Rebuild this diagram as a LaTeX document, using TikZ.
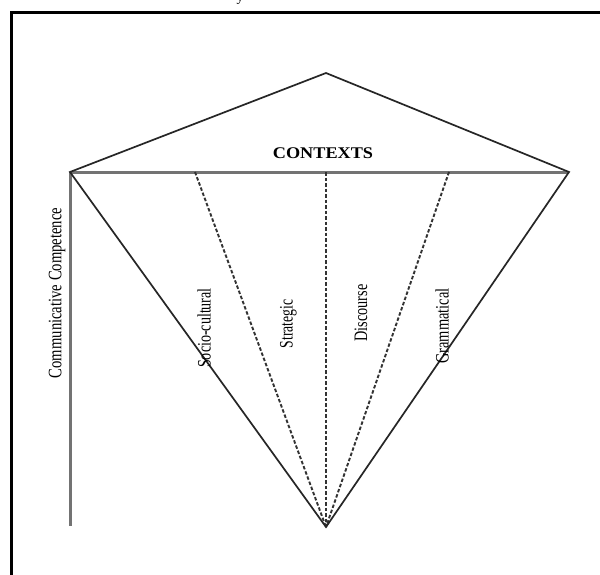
\documentclass[tikz,border=0pt]{standalone}
\usepackage{fontspec}
\setmainfont{Liberation Serif}
\begin{document}
\begin{tikzpicture}[x=1pt,y=-1pt,
  edge/.style={draw=black!85, line width=1.7pt},
  grayline/.style={draw=black!55, line width=3pt},
  dashline/.style={draw=black!80, line width=1.9pt, dash pattern=on 3.5pt off 2pt},
  lab/.style={rotate=90, inner sep=0pt, text=black, font=\fontsize{19}{19}\selectfont},
  frame/.style={draw=black, line width=2.8pt}]
\useasboundingbox (0,0) rectangle (600,574);
\clip (0,0) rectangle (600,574);
\fill[white] (0,0) rectangle (600,574);
% frame (only top and left edges visible)
\coordinate (F0) at (11.5,640);
\coordinate (F1) at (11.5,12.5);
\coordinate (F2) at (640,12.5);
\draw[frame] (F0) -- (F1) -- (F2);
\node[anchor=base, inner sep=0pt, font=\fontsize{14}{14}\selectfont] (ycut) at (240,1) {y};
% vertices
\coordinate (apex) at (326,73);
\coordinate (L) at (70,172);
\coordinate (R) at (569,172);
\coordinate (B) at (326,527);
\coordinate (D1) at (195,172);
\coordinate (D2) at (326,172);
\coordinate (D3) at (449,172);
\coordinate (V) at (70,526);
% gray lines
\draw[grayline] (L) -- (R);
\draw[grayline] (L) -- (V);
% dashed lines
\draw[dashline] (D1) -- (B);
\draw[dashline] (D2) -- (B);
\draw[dashline] (D3) -- (B);
% outline
\draw[edge, line join=miter] (L) -- (apex) -- (R) -- (B) -- cycle;
% labels
\node[font=\fontsize{17.5}{17.5}\selectfont\bfseries, inner sep=0pt, text=black] (ctx) at (323,153.5) {\scalebox{1.04}[0.93]{CONTEXTS}};
\node[lab] (cc) at (57,293) {\scalebox{0.77}[1]{Communicative Competence}};
\node[lab] (sc) at (204,328) {\scalebox{0.74}[1]{Socio-cultural}};
\node[lab] (st) at (288.5,324) {\scalebox{0.72}[1]{Strategic}};
\node[lab] (di) at (361,313) {\scalebox{0.75}[1]{Discourse}};
\node[lab] (gr) at (442,326) {\scalebox{0.76}[1]{Grammatical}};
\end{tikzpicture}
\end{document}
